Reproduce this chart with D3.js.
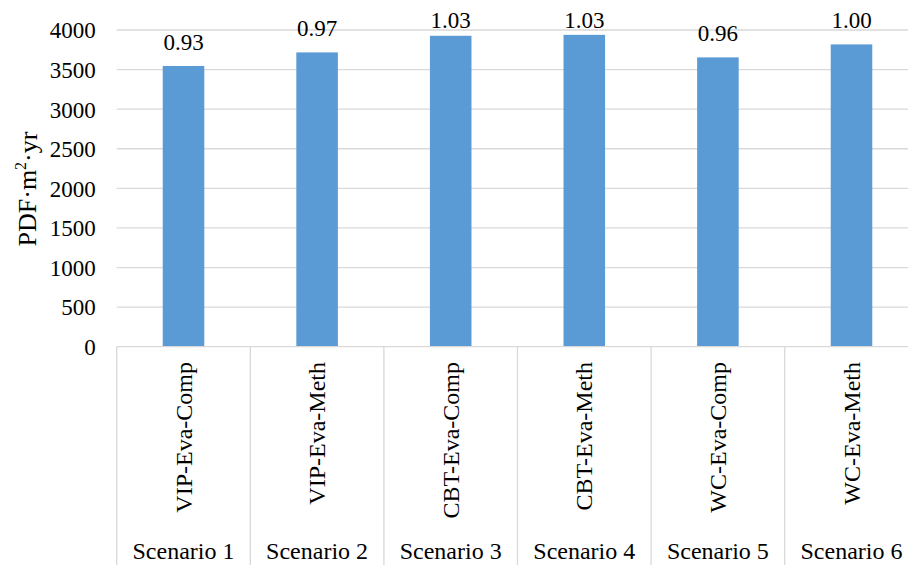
<!DOCTYPE html>
<html><head><meta charset="utf-8">
<script src="https://cdn.jsdelivr.net/npm/d3@7"></script>
<style>
body{margin:0;background:#fff;}
svg{display:block;}
svg text{font-family:"Liberation Serif","Times New Roman",serif !important;}
</style></head>
<body>
<svg id="chart" width="908" height="565"></svg>
<script>
const scenarios = ["Scenario 1","Scenario 2","Scenario 3","Scenario 4","Scenario 5","Scenario 6"];
const configs = ["VIP-Eva-Comp","VIP-Eva-Meth","CBT-Eva-Comp","CBT-Eva-Meth","WC-Eva-Comp","WC-Eva-Meth"];
const values = [3545, 3717, 3927, 3939, 3654, 3818];
const ratios = ["0.93","0.97","1.03","1.03","0.96","1.00"];
const yTicks = [0,500,1000,1500,2000,2500,3000,3500,4000];

(function(){
const svg = d3.select("#chart");
const pL = 116.7, pR = 918.3, pT = 30, pB = 346.7;
const x = d3.scaleBand().domain(scenarios).range([pL, pR]).paddingInner(0).paddingOuter(0);
const y = d3.scaleLinear().domain([0,4000]).range([pB, pT]);
const grid = "#d9d9d9";

svg.append("g").selectAll("line").data(yTicks.filter(d=>d>0)).join("line")
  .attr("x1", pL).attr("x2", pR)
  .attr("y1", d=>y(d)).attr("y2", d=>y(d))
  .attr("stroke", grid).attr("stroke-width", 1.3);

const yAxis = d3.axisLeft(y).tickValues(yTicks).tickSize(0).tickPadding(0).tickFormat(d3.format("d"));
const ga = svg.append("g").attr("transform", `translate(${pL-21},0)`).call(yAxis);
ga.attr("font-family", "Liberation Serif");
ga.select(".domain").remove();
ga.selectAll("text").attr("font-size", 23).attr("fill", "#000").attr("dy","0.34em");

const bw = x.bandwidth()*0.311;
svg.append("g").selectAll("rect").data(values).join("rect")
  .attr("x", (d,i)=>x(scenarios[i]) + x.bandwidth()/2 - bw/2)
  .attr("width", bw)
  .attr("y", d=>y(d))
  .attr("height", d=>pB - y(d))
  .attr("fill", "#5b9bd5");

svg.append("g").selectAll("text").data(values).join("text")
  .attr("x", (d,i)=>x(scenarios[i]) + x.bandwidth()/2)
  .attr("y", d=>Math.max(y(d)-16, 28))
  .attr("text-anchor","middle").attr("font-size",23).attr("fill","#000")
  .text((d,i)=>ratios[i]);

svg.append("line").attr("x1",pL).attr("x2",pR).attr("y1",pB).attr("y2",pB)
  .attr("stroke",grid).attr("stroke-width",1.3);
svg.append("g").selectAll("line").data(scenarios).join("line")
  .attr("x1",d=>x(d)).attr("x2",d=>x(d)).attr("y1",pB).attr("y2",565)
  .attr("stroke",grid).attr("stroke-width",1.3);

svg.append("g").selectAll("text").data(configs).join("text")
  .attr("transform",(d,i)=>`translate(${x(scenarios[i])+x.bandwidth()/2+8},362) rotate(-90)`)
  .attr("text-anchor","end").attr("font-size",24).attr("fill","#000")
  .text(d=>d);

svg.append("g").selectAll("text").data(scenarios).join("text")
  .attr("x",d=>x(d)+x.bandwidth()/2).attr("y",559)
  .attr("text-anchor","middle").attr("font-size",24).attr("fill","#000")
  .text(d=>d);

const t = svg.append("text").attr("transform","translate(36,189) rotate(-90)")
  .attr("text-anchor","middle").attr("font-size",26).attr("fill","#000");
t.append("tspan").text("PDF·m");
t.append("tspan").attr("font-size",16).attr("dy","-0.6em").text("2");
t.append("tspan").attr("dy","0.4em").text("·yr");
})();
</script>
</body></html>
